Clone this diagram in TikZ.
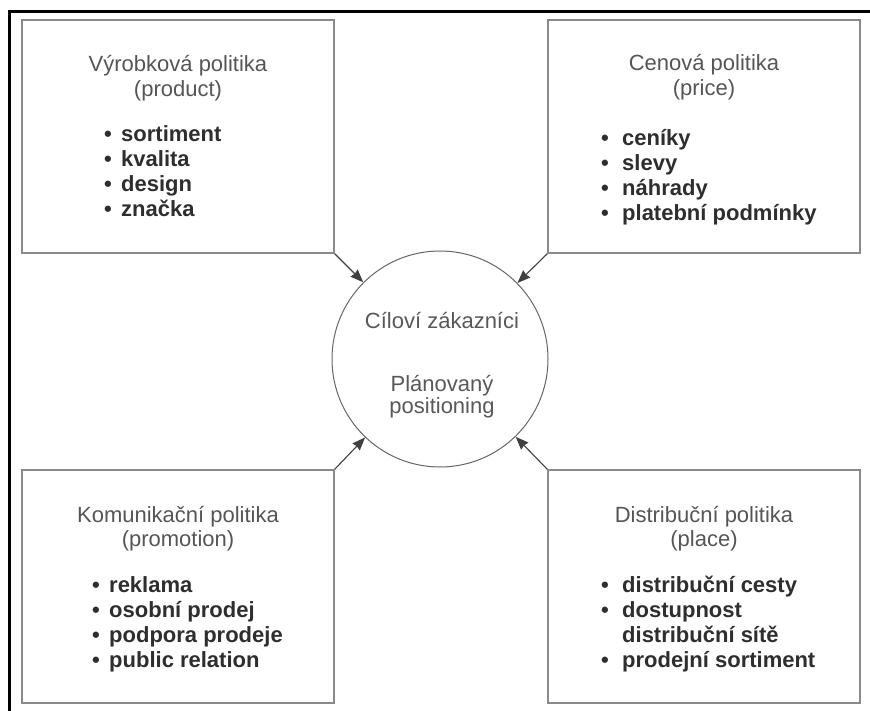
\documentclass[tikz,border=0pt]{standalone}
\usepackage{fontspec}
\setmainfont{Liberation Sans}
\usetikzlibrary{arrows.meta}
\definecolor{titlegray}{HTML}{555555}
\definecolor{itemgray}{HTML}{2E2E2E}
\definecolor{boxgray}{HTML}{8A8A8A}
\definecolor{circgray}{HTML}{666666}
\begin{document}
\begin{tikzpicture}[x=1pt,y=-1pt,
  frameline/.style={line width=2.5pt,black},
  policybox/.style={draw=boxgray,line width=1.6pt,rectangle,minimum width=312pt,minimum height=233pt,inner sep=0},
  centre/.style={draw=circgray,line width=1pt,circle,minimum size=216pt,inner sep=0},
  ttl/.style={anchor=base,inner sep=0,text=titlegray,font=\fontsize{22}{26}\selectfont},
  ctext/.style={anchor=base,inner sep=0,text=itemgray!80,font=\fontsize{22}{26}\selectfont},
  bul/.style={anchor=base west,inner sep=0,text=itemgray,font=\fontsize{22}{26}\selectfont\bfseries},
  itm/.style={anchor=base west,inner sep=0,text=itemgray,font=\fontsize{22}{26}\selectfont\bfseries},
  arr/.style={draw=black!75,line width=1.1pt,-{Stealth[length=13pt,width=10pt,inset=1pt]}}]
\useasboundingbox (0,0) rectangle (870,711);
\draw[frameline] (9.7,711) -- (9.7,11.3) -- (870,11.3);

\node[policybox] (p1) at (178,136.5) {};
\node[policybox] (p2) at (704,136.5) {};
\node[policybox] (p3) at (178,586.5) {};
\node[policybox] (p4) at (704,586.5) {};
\node[centre] (c) at (440,359) {};

% product
\node[ttl] (t1a) at (178,72) {Výrobková politika};
\node[ttl] (t1b) at (178,97) {(product)};
\node[bul] (b1a) at (104,142) {•};
\node[bul] (b1b) at (104,167) {•};
\node[bul] (b1c) at (104,192) {•};
\node[bul] (b1d) at (104,217) {•};
\node[itm] (i1a) at (121,142) {sortiment};
\node[itm] (i1b) at (121,167) {kvalita};
\node[itm] (i1c) at (121,192) {design};
\node[itm] (i1d) at (121,217) {značka};

% price
\node[ttl] (t2a) at (704,71) {Cenová politika};
\node[ttl] (t2b) at (704,96) {(price)};
\node[bul] (b2a) at (601,146) {•};
\node[bul] (b2b) at (601,171) {•};
\node[bul] (b2c) at (601,196) {•};
\node[bul] (b2d) at (601,221) {•};
\node[itm] (i2a) at (622,146) {ceníky};
\node[itm] (i2b) at (622,171) {slevy};
\node[itm] (i2c) at (622,196) {náhrady};
\node[itm] (i2d) at (622,221) {platební podmínky};

% promotion
\node[ttl] (t3a) at (178,522) {Komunikační politika};
\node[ttl] (t3b) at (178,546) {(promotion)};
\node[bul] (b3a) at (92,592) {•};
\node[bul] (b3b) at (92,617) {•};
\node[bul] (b3c) at (92,642) {•};
\node[bul] (b3d) at (92,667) {•};
\node[itm] (i3a) at (109,592) {reklama};
\node[itm] (i3b) at (109,617) {osobní prodej};
\node[itm] (i3c) at (109,642) {podpora prodeje};
\node[itm] (i3d) at (109,667) {public relation};

% place
\node[ttl] (t4a) at (704,522) {Distribuční politika};
\node[ttl] (t4b) at (704,546) {(place)};
\node[bul] (b4a) at (601,592) {•};
\node[bul] (b4b) at (601,617) {•};
\node[bul] (b4d) at (601,667) {•};
\node[itm] (i4a) at (622,592) {distribuční cesty};
\node[itm] (i4b) at (622,617) {dostupnost};
\node[itm] (i4c) at (622,642) {distribuční sítě};
\node[itm] (i4d) at (622,667) {prodejní sortiment};

% centre
\node[ctext] (ca) at (442,328) {Cíloví zákazníci};
\node[ctext] (cb) at (442,391) {Plánovaný};
\node[ctext] (cc) at (442,413) {positioning};

\draw[arr] (p1.south east) -- (c);
\draw[arr] (p2.south west) -- (c);
\draw[arr] (p3.north east) -- (c);
\draw[arr] (p4.north west) -- (c);
\end{tikzpicture}
\end{document}
